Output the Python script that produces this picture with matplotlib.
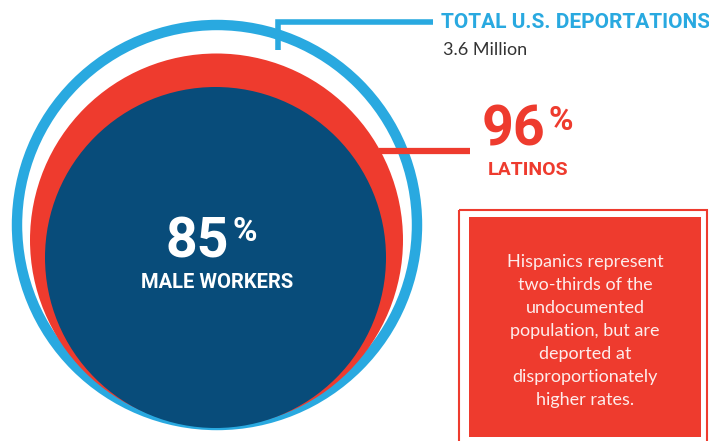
import matplotlib.pyplot as plt
from matplotlib.patches import Circle, Rectangle

# data read from the infographic
total_label = "TOTAL U.S. DEPORTATIONS"
total_value = "3.6 Million"
latino_pct = 96
latino_label = "LATINOS"
male_pct = 85
male_label = "MALE WORKERS"
note_lines = ["Hispanics represent", "two-thirds of the", "undocumented",
              "population, but are", "deported at", "disproportionately",
              "higher rates."]

BLUE = "#29a9e0"
RED = "#ee3b2e"
NAVY = "#084c7a"

fig = plt.figure(figsize=(7.09, 4.41), dpi=100)
ax = fig.add_axes([0, 0, 1, 1])
ax.set_xlim(0, 709)
ax.set_ylim(441, 0)
ax.set_aspect("equal")
ax.axis("off")

# circles (all sitting near the same bottom point)
ax.add_patch(Circle((217, 225), 200, fill=False, ec=BLUE, lw=7.5))
ax.add_patch(Circle((216.5, 240), 186.5, color=RED, lw=0))
ax.add_patch(Circle((215.5, 257.5), 170.5, color=NAVY, lw=0))

# connector lines
ax.plot([278, 278, 433], [50, 22, 22], color=BLUE, lw=4, solid_capstyle="butt",
        solid_joinstyle="miter")
ax.plot([379, 470], [151, 151], color=RED, lw=4.5, solid_capstyle="butt")

head = "Roboto"
ax.text(441, 22, total_label, color=BLUE, fontsize=15, fontweight="bold",
        family=head, va="center", ha="left")
ax.text(443, 50, total_value, color="#333333", fontsize=13, family="Lato",
        va="center", ha="left")

renderer = fig.canvas.get_renderer()
inv = ax.transData.inverted()


def big_percent(x, y_base, value, color):
    """Getal met een klein procentteken rechtsboven."""
    t = ax.text(x, y_base, str(value), color=color, fontsize=40, fontweight="bold",
                family=head, va="baseline", ha="left")
    bb = t.get_window_extent(renderer)
    x1 = inv.transform((bb.x1, bb.y1))[0]
    ax.text(x1 + 3, y_base - 41, "%", color=color, fontsize=24, fontweight="bold",
            family=head, va="top", ha="left")


big_percent(482, 146, latino_pct, RED)
ax.text(528, 170, latino_label, color=RED, fontsize=14, fontweight="bold",
        family=head, va="center", ha="center")

big_percent(166, 257, male_pct, "white")
ax.text(217, 282, male_label, color="white", fontsize=14.5, fontweight="bold",
        family=head, va="center", ha="center")

# note box
ax.add_patch(Rectangle((459, 210), 248, 240, fill=False, ec=RED, lw=1.5))
ax.add_patch(Rectangle((469, 217), 232, 220, color=RED, lw=0))
for i, line in enumerate(note_lines):
    ax.text(585, 262 + i * 23, line, color="#fdeceb", fontsize=13,
            family="Lato", va="center", ha="center")

fig.savefig("out.png", dpi=100)
